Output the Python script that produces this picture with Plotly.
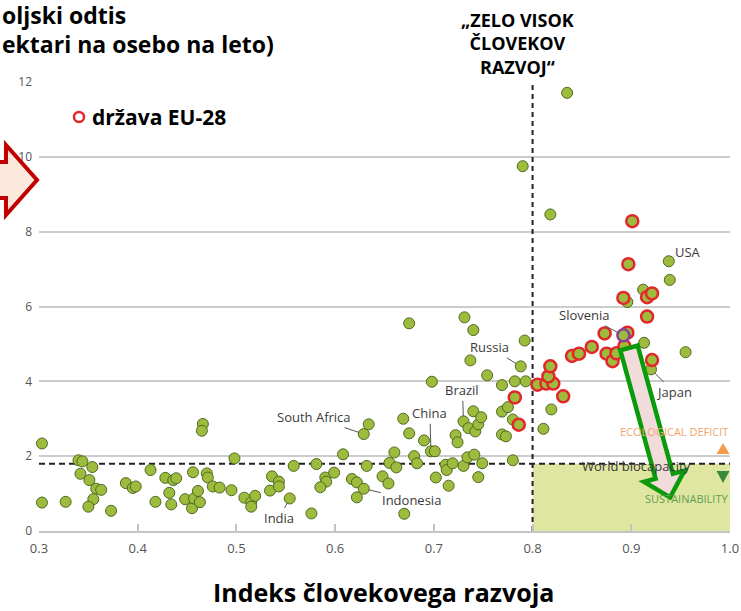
import plotly.graph_objects as go

# HDI (x) and ecological footprint in gha per person (y)
hdi_other = [0.303, 0.303, 0.327, 0.340, 0.344, 0.342, 0.354, 0.351, 0.358, 0.363, 0.355, 0.350, 0.373,
             0.388, 0.395, 0.398, 0.413, 0.418, 0.428, 0.436, 0.439, 0.432, 0.434, 0.448, 0.456, 0.455,
             0.457, 0.461, 0.463, 0.466, 0.465, 0.470, 0.471, 0.476, 0.483, 0.495, 0.498, 0.508, 0.515,
             0.515, 0.519, 0.534, 0.536, 0.543, 0.543, 0.554, 0.558, 0.576, 0.581, 0.590, 0.591, 0.585,
             0.599, 0.608, 0.617, 0.622, 0.629, 0.622, 0.632, 0.629, 0.634, 0.648, 0.654, 0.655, 0.660,
             0.662, 0.669, 0.670, 0.675, 0.675, 0.680, 0.683, 0.690, 0.697, 0.701, 0.698, 0.702, 0.712,
             0.713, 0.715, 0.719, 0.722, 0.724, 0.730, 0.730, 0.731, 0.734, 0.735, 0.737, 0.740, 0.740,
             0.741, 0.742, 0.745, 0.745, 0.748, 0.749, 0.754, 0.769, 0.769, 0.775, 0.769, 0.773, 0.780,
             0.780, 0.782, 0.793, 0.788, 0.792, 0.790, 0.818, 0.835, 0.819, 0.811, 0.938, 0.939, 0.912,
             0.896, 0.913, 0.955, 0.920]
footprint_other = [2.34, 0.76, 0.78, 1.89, 1.86, 1.53, 1.71, 1.36, 1.13, 1.10, 0.85, 0.65, 0.54,
                   1.28, 1.15, 1.19, 1.63, 0.78, 1.42, 1.36, 1.41, 1.02, 0.71, 0.85, 1.57, 0.61,
                   0.87, 1.07, 0.77, 2.86, 2.68, 1.54, 1.43, 1.19, 1.16, 1.09, 1.94, 0.89, 0.77,
                   0.65, 0.94, 1.08, 1.46, 1.32, 1.19, 0.87, 1.74, 0.47, 1.79, 1.43, 1.32, 1.17,
                   1.56, 2.05, 1.39, 1.30, 1.13, 0.90, 1.74, 2.59, 2.85, 1.46, 1.27, 1.82, 2.10,
                   1.70, 3.00, 0.46, 5.55, 2.61, 2.00, 1.81, 2.42, 2.13, 2.13, 3.99, 1.43, 1.77,
                   1.63, 1.21, 1.81, 2.56, 2.37, 2.93, 1.74, 5.71, 1.97, 2.75, 4.56, 3.20, 5.37,
                   2.04, 2.66, 2.85, 1.44, 3.04, 1.81, 4.16, 3.90, 3.19, 3.31, 2.58, 2.53, 2.98,
                   1.89, 4.00, 4.00, 4.40, 5.09, 9.75, 8.46, 11.71, 3.25, 2.73, 7.21, 6.71, 6.45,
                   6.12, 5.03, 4.78, 4.32]

hdi_eu = [0.782, 0.786, 0.805, 0.814, 0.821, 0.816, 0.818, 0.831, 0.840, 0.847, 0.860, 0.873,
          0.875, 0.881, 0.885, 0.893, 0.896, 0.916, 0.892, 0.916, 0.921, 0.897, 0.901, 0.921]
footprint_eu = [3.57, 2.84, 3.91, 3.94, 3.94, 4.13, 4.40, 3.60, 4.68, 4.74, 4.92, 5.28,
                4.74, 4.54, 4.75, 4.94, 5.30, 5.73, 6.23, 6.25, 6.35, 7.13, 8.28, 4.57]

slovenia_hdi = [0.892]
slovenia_footprint = [5.23]

label_names = ["Russia", "Brazil", "China", "South Africa", "Indonesia", "India", "Slovenia", "Japan"]
label_hdi = [0.788, 0.730, 0.697, 0.629, 0.629, 0.554, 0.892, 0.920]
label_footprint = [4.40, 2.93, 2.13, 2.59, 1.13, 0.87, 5.23, 4.32]
label_offsets = [(-31, -19), (-1, -31), (-1, -38), (-50, -17), (48, 11), (-11, 20), (-39, -20), (23, 23)]

world_biocapacity = 1.8
very_high_hdi = 0.8
x_ticks = [0.3, 0.4, 0.5, 0.6, 0.7, 0.8, 0.9, 1.0]
y_ticks = [0, 2, 4, 6, 8, 10, 12]

W, H = 741, 611
L, R, T, B = 39, 11, 82, 80
PW, PH = W - L - R, H - T - B


def paper(xp, yp):
    return (xp - L) / PW, (H - B - yp) / PH


def path(points):
    pts = [paper(x, y) for x, y in points]
    return "M " + " L ".join(f"{x:.4f},{y:.4f}" for x, y in pts) + " Z"


fig = go.Figure()
fig.add_trace(go.Scatter(x=hdi_other, y=footprint_other, mode='markers', cliponaxis=False,
                         marker=dict(size=11, color='#9dbb3d', line=dict(color='#4f6a20', width=1)),
                         showlegend=False, hoverinfo='skip'))
fig.add_trace(go.Scatter(x=hdi_eu, y=footprint_eu, mode='markers', cliponaxis=False,
                         marker=dict(size=12, color='#9dbb3d', line=dict(color='#e3262b', width=2.5)),
                         showlegend=False, hoverinfo='skip'))
fig.add_trace(go.Scatter(x=slovenia_hdi, y=slovenia_footprint, mode='markers', cliponaxis=False,
                         marker=dict(size=12, color='#9dbb3d', line=dict(color='#8a3f9e', width=2.5)),
                         showlegend=False, hoverinfo='skip'))

# sustainability quadrant and reference lines
fig.add_shape(type='rect', x0=very_high_hdi, x1=1.0, y0=0, y1=world_biocapacity,
              fillcolor='#dfe6a1', line_width=0, layer='between')
fig.add_shape(type='line', x0=0.3, x1=1.0, y0=world_biocapacity, y1=world_biocapacity,
              line=dict(color='#222222', width=2, dash='6px,4px'), layer='between')
fig.add_shape(type='line', x0=very_high_hdi, x1=very_high_hdi, y0=0, y1=12,
              line=dict(color='#222222', width=2, dash='5px,4px'), layer='between')

# red block arrow at the left edge
fig.add_shape(type='path', xref='paper', yref='paper',
              path=path([(-6, 162), (6, 162), (6, 145), (37, 180), (6, 215), (6, 198), (-6, 198)]),
              fillcolor='#fde9dc', line=dict(color='#c00000', width=4), layer='above')

# green block arrow
sx, sy = 629, 348
ux, uy = 0.265, 0.964
qx, qy = 0.964, -0.265
w, hw, sl, tl = 9, 21, 133, 155
bx, by = sx + sl * ux, sy + sl * uy
fig.add_shape(type='path', xref='paper', yref='paper',
              path=path([(sx + w * qx, sy + w * qy), (bx + w * qx, by + w * qy), (bx + hw * qx, by + hw * qy),
                         (sx + tl * ux, sy + tl * uy), (bx - hw * qx, by - hw * qy), (bx - w * qx, by - w * qy),
                         (sx - w * qx, sy - w * qy)]),
              fillcolor='#f2dcdb', line=dict(color='#0a9a0a', width=4.5), layer='above')

# small triangles
fig.add_shape(type='path', xref='paper', yref='paper', path=path([(723, 443), (729.5, 454), (716.5, 454)]),
              fillcolor='#f39c4a', line_width=0, layer='above')
fig.add_shape(type='path', xref='paper', yref='paper', path=path([(716.5, 471), (729.5, 471), (723, 483)]),
              fillcolor='#3b8a3b', line_width=0, layer='above')

# legend ring
lx, ly = paper(79, 117)
fig.add_shape(type='circle', xref='paper', yref='paper', xsizemode='pixel', ysizemode='pixel',
              xanchor=lx, yanchor=ly, x0=-5, x1=5, y0=-5, y1=5,
              fillcolor='white', line=dict(color='#e3262b', width=2.5))

for name, x, y, (ax, ay) in zip(label_names, label_hdi, label_footprint, label_offsets):
    fig.add_annotation(x=x, y=y, text=name, showarrow=True, arrowhead=0, arrowwidth=1,
                       arrowcolor='#555555', ax=ax, ay=ay, standoff=5,
                       font=dict(family='Open Sans', size=13, color='#3a3a3a'))
fig.add_annotation(x=0.938, y=7.21, text='USA', showarrow=False, xanchor='left', xshift=4, yshift=9,
                   font=dict(family='Open Sans', size=13, color='#3a3a3a'))
fig.add_annotation(x=0.905, y=world_biocapacity, text='World biocapacity', showarrow=False, yshift=-2,
                   font=dict(family='Open Sans', size=13, color='#3a3a3a'))
fig.add_annotation(x=1.0, y=2.65, text='ECOLOGICAL DEFICIT', showarrow=False, xanchor='right',
                   font=dict(family='Open Sans', size=11, color='#f0a46a'))
fig.add_annotation(x=1.0, y=0.88, text='SUSTAINABILITY', showarrow=False, xanchor='right',
                   font=dict(family='Open Sans', size=11, color='#5fa050'))

# the y title is cropped at the left edge in the picture; only its visible part is shown
bold = dict(family='Open Sans', color='black')
tx, ty = paper(0, 15)
fig.add_annotation(xref='paper', yref='paper', x=tx, y=ty, xanchor='left', yanchor='middle',
                   text='<b>oljski odtis</b>', showarrow=False, font=dict(size=23, **bold))
tx, ty = paper(0, 44)
fig.add_annotation(xref='paper', yref='paper', x=tx, y=ty, xanchor='left', yanchor='middle',
                   text='<b>ektari na osebo na leto)</b>', showarrow=False, font=dict(size=23, **bold))
tx, ty = paper(517.5, 44)
fig.add_annotation(xref='paper', yref='paper', x=tx, y=ty, xanchor='center', yanchor='middle',
                   text='<b>„ZELO VISOK<br>ČLOVEKOV<br>RAZVOJ“</b>', showarrow=False, font=dict(size=18, **bold))
tx, ty = paper(90, 117)
fig.add_annotation(xref='paper', yref='paper', x=tx, y=ty, xanchor='left', yanchor='middle',
                   text='<b>država EU-28</b>', showarrow=False, font=dict(size=21, **bold))
tx, ty = paper(383, 592)
fig.add_annotation(xref='paper', yref='paper', x=tx, y=ty, xanchor='center', yanchor='middle',
                   text='<b>Indeks človekovega razvoja</b>', showarrow=False, font=dict(size=25, **bold))

fig.update_layout(
    width=W, height=H, margin=dict(l=L, r=R, t=T, b=B, autoexpand=False),
    paper_bgcolor='white', plot_bgcolor='white', showlegend=False,
    font=dict(family='Open Sans', color='#555555'),
    xaxis=dict(range=[0.3, 1.0], tickvals=x_ticks, ticktext=[f"{v:.1f}" for v in x_ticks],
               automargin=False, showgrid=False, zeroline=False, showline=True, linecolor='#c4c4c4',
               linewidth=2, ticks='inside', ticklen=7, tickwidth=2, tickcolor='#c4c4c4',
               ticklabelstandoff=4, tickfont=dict(size=13, color='#555555')),
    yaxis=dict(range=[0, 12], tickvals=y_ticks, showgrid=True, gridcolor='#cccccc', gridwidth=2,
               automargin=False, zeroline=False, showline=False, ticklabelstandoff=6,
               tickfont=dict(size=12, color='#555555')),
)

# the page's default body margin would push the 741x611 figure out of the window
fig.write_html("out.html", config={'displayModeBar': False},
               post_script="document.body.style.margin = '0';")
